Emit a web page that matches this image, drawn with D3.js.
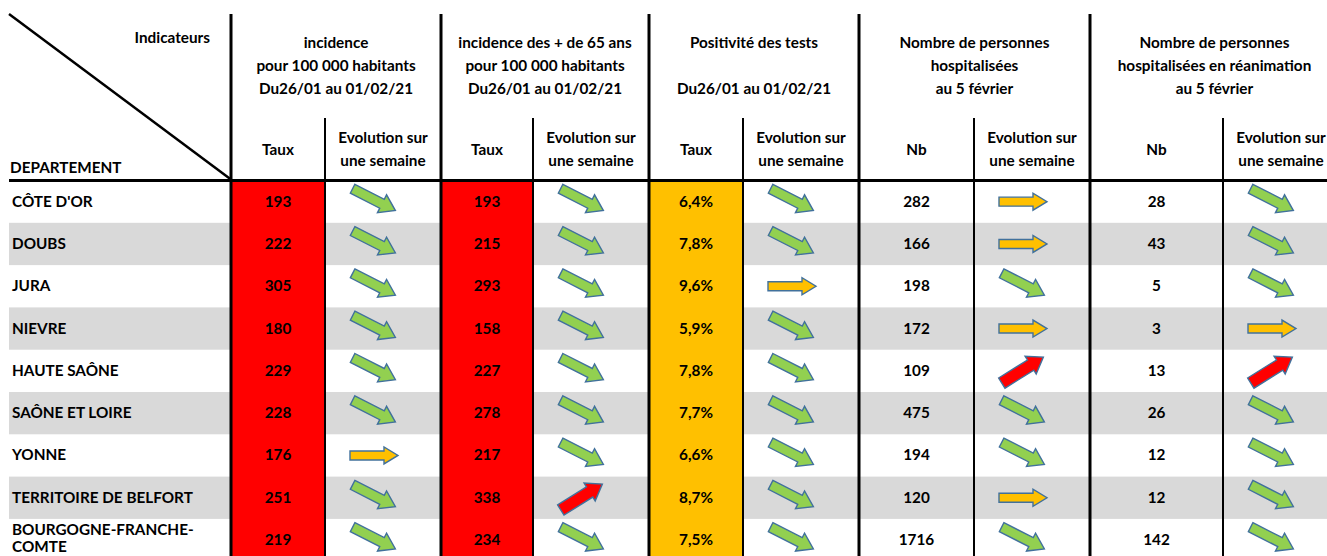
<!DOCTYPE html>
<meta charset="utf-8">
<html>
<head>
<style>
body { margin: 0; background: #fff; }
text { font-family: Lato, "Open Sans", sans-serif; font-weight: bold; fill: #000; }
</style>
</head>
<body>
<script src="https://cdn.jsdelivr.net/npm/d3@7"></script>
<script>

// data
var departements = ["CÔTE D'OR", "DOUBS", "JURA", "NIEVRE", "HAUTE SAÔNE", "SAÔNE ET LOIRE", "YONNE", "TERRITOIRE DE BELFORT", "BOURGOGNE-FRANCHE-COMTE"];
var incidence = [193, 222, 305, 180, 229, 228, 176, 251, 219];
var evoIncidence = ["down", "down", "down", "down", "down", "down", "flat", "down", "down"];
var incidence65 = [193, 215, 293, 158, 227, 278, 217, 338, 234];
var evoIncidence65 = ["down", "down", "down", "down", "down", "down", "down", "up", "down"];
var positivite = [6.4, 7.8, 9.6, 5.9, 7.8, 7.7, 6.6, 8.7, 7.5];
var evoPositivite = ["down", "down", "flat", "down", "down", "down", "down", "down", "down"];
var hospitalises = [282, 166, 198, 172, 109, 475, 194, 120, 1716];
var evoHospitalises = ["flat", "flat", "down", "flat", "up", "down", "down", "flat", "down"];
var reanimation = [28, 43, 5, 3, 13, 26, 12, 12, 142];
var evoReanimation = ["down", "down", "down", "flat", "up", "down", "down", "down", "down"];

var groupTitles = [
  ["incidence", "pour 100 000 habitants", "Du26/01 au 01/02/21"],
  ["incidence des + de 65 ans", "pour 100 000 habitants", "Du26/01 au 01/02/21"],
  ["Positivité des tests", "", "Du26/01 au 01/02/21"],
  ["Nombre de personnes", "hospitalisées", "au 5 février"],
  ["Nombre de personnes", "hospitalisées en réanimation", "au 5 février"]
];
var subTitles = [["Taux"], ["Taux"], ["Taux"], ["Nb"], ["Nb"]];

var width = 1327, height = 556;
var fs = "15.3px";

// column edges (px)
var edges = [9, 231, 325, 441, 533, 649, 743, 859, 974, 1090, 1223, 1339];
var headerTop = 14, subTop = 118, headerBottom = 180.5;

var groups = [
  {title: groupTitles[0], sub: subTitles[0], values: incidence, evo: evoIncidence, fmt: d3.format("d"), fill: "#ff0000"},
  {title: groupTitles[1], sub: subTitles[1], values: incidence65, evo: evoIncidence65, fmt: d3.format("d"), fill: "#ff0000"},
  {title: groupTitles[2], sub: subTitles[2], values: positivite, evo: evoPositivite, fmt: function(v) { return d3.format(".1f")(v).replace(".", ",") + "%"; }, fill: "#ffc000"},
  {title: groupTitles[3], sub: subTitles[3], values: hospitalises, evo: evoHospitalises, fmt: d3.format("d"), fill: null},
  {title: groupTitles[4], sub: subTitles[4], values: reanimation, evo: evoReanimation, fmt: d3.format("d"), fill: null}
];

var y = d3.scaleBand()
  .domain(departements)
  .range([headerBottom, headerBottom + 42.3 * departements.length]);

var svg = d3.select("body").append("svg")
  .attr("width", width)
  .attr("height", height);

// striped rows
svg.selectAll(".stripe")
  .data(departements.filter(function(d, i) { return i % 2 == 1; }))
  .enter().append("rect")
  .attr("class", "stripe")
  .attr("x", edges[0])
  .attr("y", function(d) { return y(d); })
  .attr("width", width - edges[0])
  .attr("height", y.bandwidth())
  .attr("fill", "#d9d9d9");

// coloured value columns
groups.forEach(function(g, gi) {
  if (g.fill) {
    svg.append("rect")
      .attr("x", edges[1 + gi * 2])
      .attr("y", headerBottom)
      .attr("width", edges[2 + gi * 2] - edges[1 + gi * 2])
      .attr("height", height - headerBottom)
      .attr("fill", g.fill);
  }
});

// row labels
departements.forEach(function(d) {
  var t = svg.append("text")
    .attr("x", 12)
    .attr("font-size", fs);
  if (d == "BOURGOGNE-FRANCHE-COMTE") {
    t.append("tspan").attr("x", 12).attr("y", y(d) + y.bandwidth() / 2 - 5).text("BOURGOGNE-FRANCHE-");
    t.append("tspan").attr("x", 12).attr("y", y(d) + y.bandwidth() / 2 + 12).text("COMTE");
  } else {
    t.attr("y", y(d) + y.bandwidth() / 2 + 5).text(d);
  }
});

// arrow shapes
var arrowPath = {
  down: "M-24,-5L9,-5L9,-10L24,0L9,10L9,5L-24,5Z",
  flat: "M-24,-4.5L10,-4.5L10,-8.5L24,0L10,8.5L10,4.5L-24,4.5Z",
  up: "M-25,-6L9,-6L9,-10.5L24,0L9,10.5L9,6L-25,6Z"
};
var arrowStyle = {
  down: {rot: 27, fill: "#92d050", dy: -2},
  flat: {rot: 0, fill: "#ffc000", dy: 0},
  up: {rot: -32, fill: "#ff0000", dy: -1}
};

groups.forEach(function(g, gi) {
  var x0 = edges[1 + gi * 2], x1 = edges[2 + gi * 2], x2 = edges[3 + gi * 2];
  var cx = (x0 + x1) / 2;
  var ax = (x1 + x2) / 2 - 9;

  svg.selectAll(".val" + gi)
    .data(departements)
    .enter().append("text")
    .attr("x", cx)
    .attr("y", function(d) { return y(d) + y.bandwidth() / 2 + 5; })
    .attr("text-anchor", "middle")
    .attr("font-size", fs)
    .text(function(d, i) { return g.fmt(g.values[i]); });

  svg.selectAll(".arr" + gi)
    .data(departements)
    .enter().append("path")
    .attr("d", function(d, i) { return arrowPath[g.evo[i]]; })
    .attr("transform", function(d, i) {
      var s = arrowStyle[g.evo[i]];
      return "translate(" + ax + "," + (y(d) + y.bandwidth() / 2 + s.dy) + ") rotate(" + s.rot + ")";
    })
    .attr("fill", function(d, i) { return arrowStyle[g.evo[i]].fill; })
    .attr("stroke", "#41719c")
    .attr("stroke-width", 1.4);

  // group header
  var gcx = (x0 + x2) / 2;
  g.title.forEach(function(line, li) {
    svg.append("text")
      .attr("x", gcx)
      .attr("y", 48 + li * 23)
      .attr("text-anchor", "middle")
      .attr("font-size", fs)
      .text(line);
  });
  svg.append("text")
    .attr("x", cx)
    .attr("y", 155)
    .attr("text-anchor", "middle")
    .attr("font-size", fs)
    .text(g.sub[0]);
  ["Evolution sur", "une semaine"].forEach(function(line, li) {
    svg.append("text")
      .attr("x", (x1 + x2) / 2)
      .attr("y", 143 + li * 23)
      .attr("text-anchor", "middle")
      .attr("font-size", fs)
      .text(line);
  });

  // lines
  svg.append("line")
    .attr("x1", x0).attr("x2", x0)
    .attr("y1", headerTop).attr("y2", height)
    .attr("stroke", "#000").attr("stroke-width", 3);
  svg.append("line")
    .attr("x1", x1).attr("x2", x1)
    .attr("y1", subTop).attr("y2", height)
    .attr("stroke", "#000").attr("stroke-width", 2);
});

// corner header
svg.append("line")
  .attr("x1", 9).attr("y1", headerTop)
  .attr("x2", edges[1]).attr("y2", headerBottom - 1)
  .attr("stroke", "#000").attr("stroke-width", 2.5);
svg.append("text")
  .attr("x", 210).attr("y", 43)
  .attr("text-anchor", "end")
  .attr("font-size", fs)
  .text("Indicateurs");
svg.append("text")
  .attr("x", 10).attr("y", 173)
  .attr("font-size", fs)
  .text("DEPARTEMENT");

svg.append("line")
  .attr("x1", 9).attr("x2", width)
  .attr("y1", headerBottom).attr("y2", headerBottom)
  .attr("stroke", "#000").attr("stroke-width", 3);

</script>
</body>
</html>
